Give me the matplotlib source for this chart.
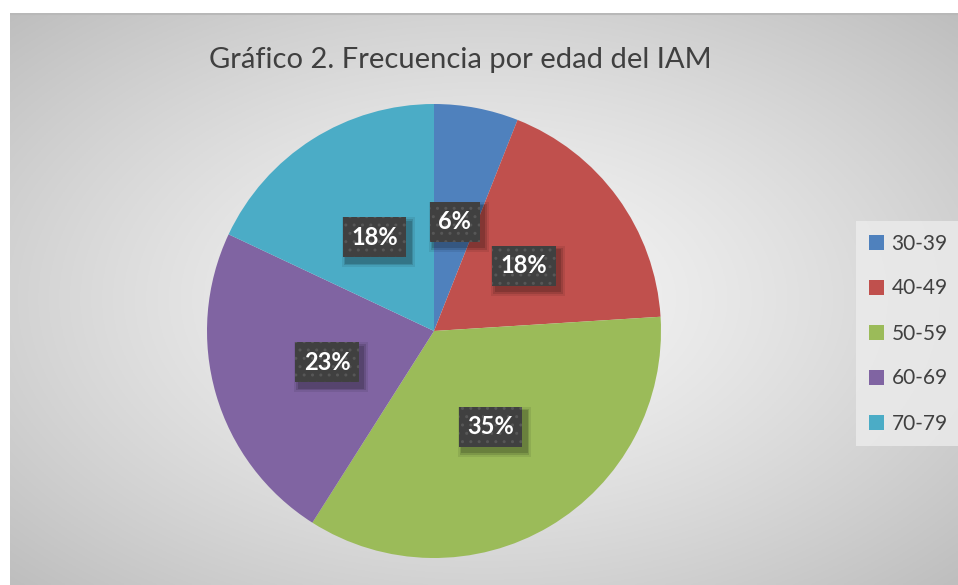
import matplotlib
matplotlib.use("Agg")
import matplotlib.pyplot as plt
from matplotlib.patches import Patch, Rectangle
import numpy as np

plt.rcParams['font.family'] = ['Lato', 'DejaVu Sans']
plt.rcParams['hatch.color'] = '#575757'
plt.rcParams['hatch.linewidth'] = 1.0

titulo = "Gráfico 2. Frecuencia por edad del IAM"
edades = ["30-39", "40-49", "50-59", "60-69", "70-79"]
porcentajes = [6, 18, 35, 23, 18]
colores = ["#4F81BD", "#C0504D", "#9BBB59", "#8064A2", "#4BACC6"]

W, H = 958, 585
fig = plt.figure(figsize=(W / 100, H / 100), dpi=100)
fig.patch.set_facecolor('white')

# chart area with radial gradient
bg = fig.add_axes([10 / W, 0, (W - 10) / W, (H - 13) / H])
bg.set_axis_off()
yy, xx = np.mgrid[-1:1:300j, -1:1:500j]
d = np.sqrt(xx ** 2 + yy ** 2) / np.sqrt(2)
shade = 0.965 - 0.22 * np.clip(d, 0, 1) ** 1.3
bg.imshow(np.dstack([shade] * 3), extent=[0, 1, 0, 1], aspect='auto')
bg.set_xlim(0, 1)
bg.set_ylim(0, 1)
bg.plot([0, 1], [0.999, 0.999], color='#b8b8b8', lw=1.5)

cx, cy, r = 434, H - 331, 227
ax = fig.add_axes([(cx - r) / W, (cy - r) / H, 2 * r / W, 2 * r / H])
ax.set_axis_off()
wedges, _ = ax.pie(porcentajes, colors=colores, startangle=90, counterclock=False,
                   radius=1, wedgeprops=dict(linewidth=0))
ax.set_xlim(-1, 1)
ax.set_ylim(-1, 1)

# data labels
total = sum(porcentajes)
acum = 0
etiquetas = []
for p in porcentajes:
    ang = np.deg2rad(90 - (acum + p / 2) / total * 360)
    acum += p
    x, y = 0.49 * np.cos(ang), 0.49 * np.sin(ang)
    t = ax.text(x, y, f"{p}%", ha='center', va='center', fontsize=17,
                fontweight='bold', color='white', zorder=5,
                bbox=dict(boxstyle='square,pad=0.36', facecolor='#404040',
                          edgecolor='#575757', linewidth=0, hatch='..'))
    etiquetas.append(t)

fig.canvas.draw()
for t in etiquetas:
    bb = t.get_bbox_patch().get_window_extent()
    for k, a in [(5, 0.08), (3, 0.12), (1.5, 0.15)]:
        ax.add_patch(Rectangle((bb.x0 + 4 - k, bb.y0 - 5 - k), bb.width + 2 * k,
                               bb.height + 2 * k, transform=None,
                               facecolor='black', alpha=a, edgecolor='none',
                               zorder=4))

fig.text(460 / W, 1 - 60 / H, titulo, ha='center', va='center', fontsize=21,
         color='#404040')

handles = [Patch(facecolor=c, edgecolor='none') for c in colores]
leg = fig.legend(handles, edades, loc='upper left',
                 bbox_to_anchor=(856 / W, 1 - 221 / H), frameon=True,
                 fontsize=15, labelcolor='#404040', handlelength=0.75,
                 handleheight=0.75, handletextpad=0.35, labelspacing=1.2,
                 borderpad=0.6, borderaxespad=0, fancybox=False)
leg.get_frame().set_facecolor('#ececec')
leg.get_frame().set_edgecolor('none')
leg.get_frame().set_alpha(0.8)

fig.savefig("out.png", dpi=100)
